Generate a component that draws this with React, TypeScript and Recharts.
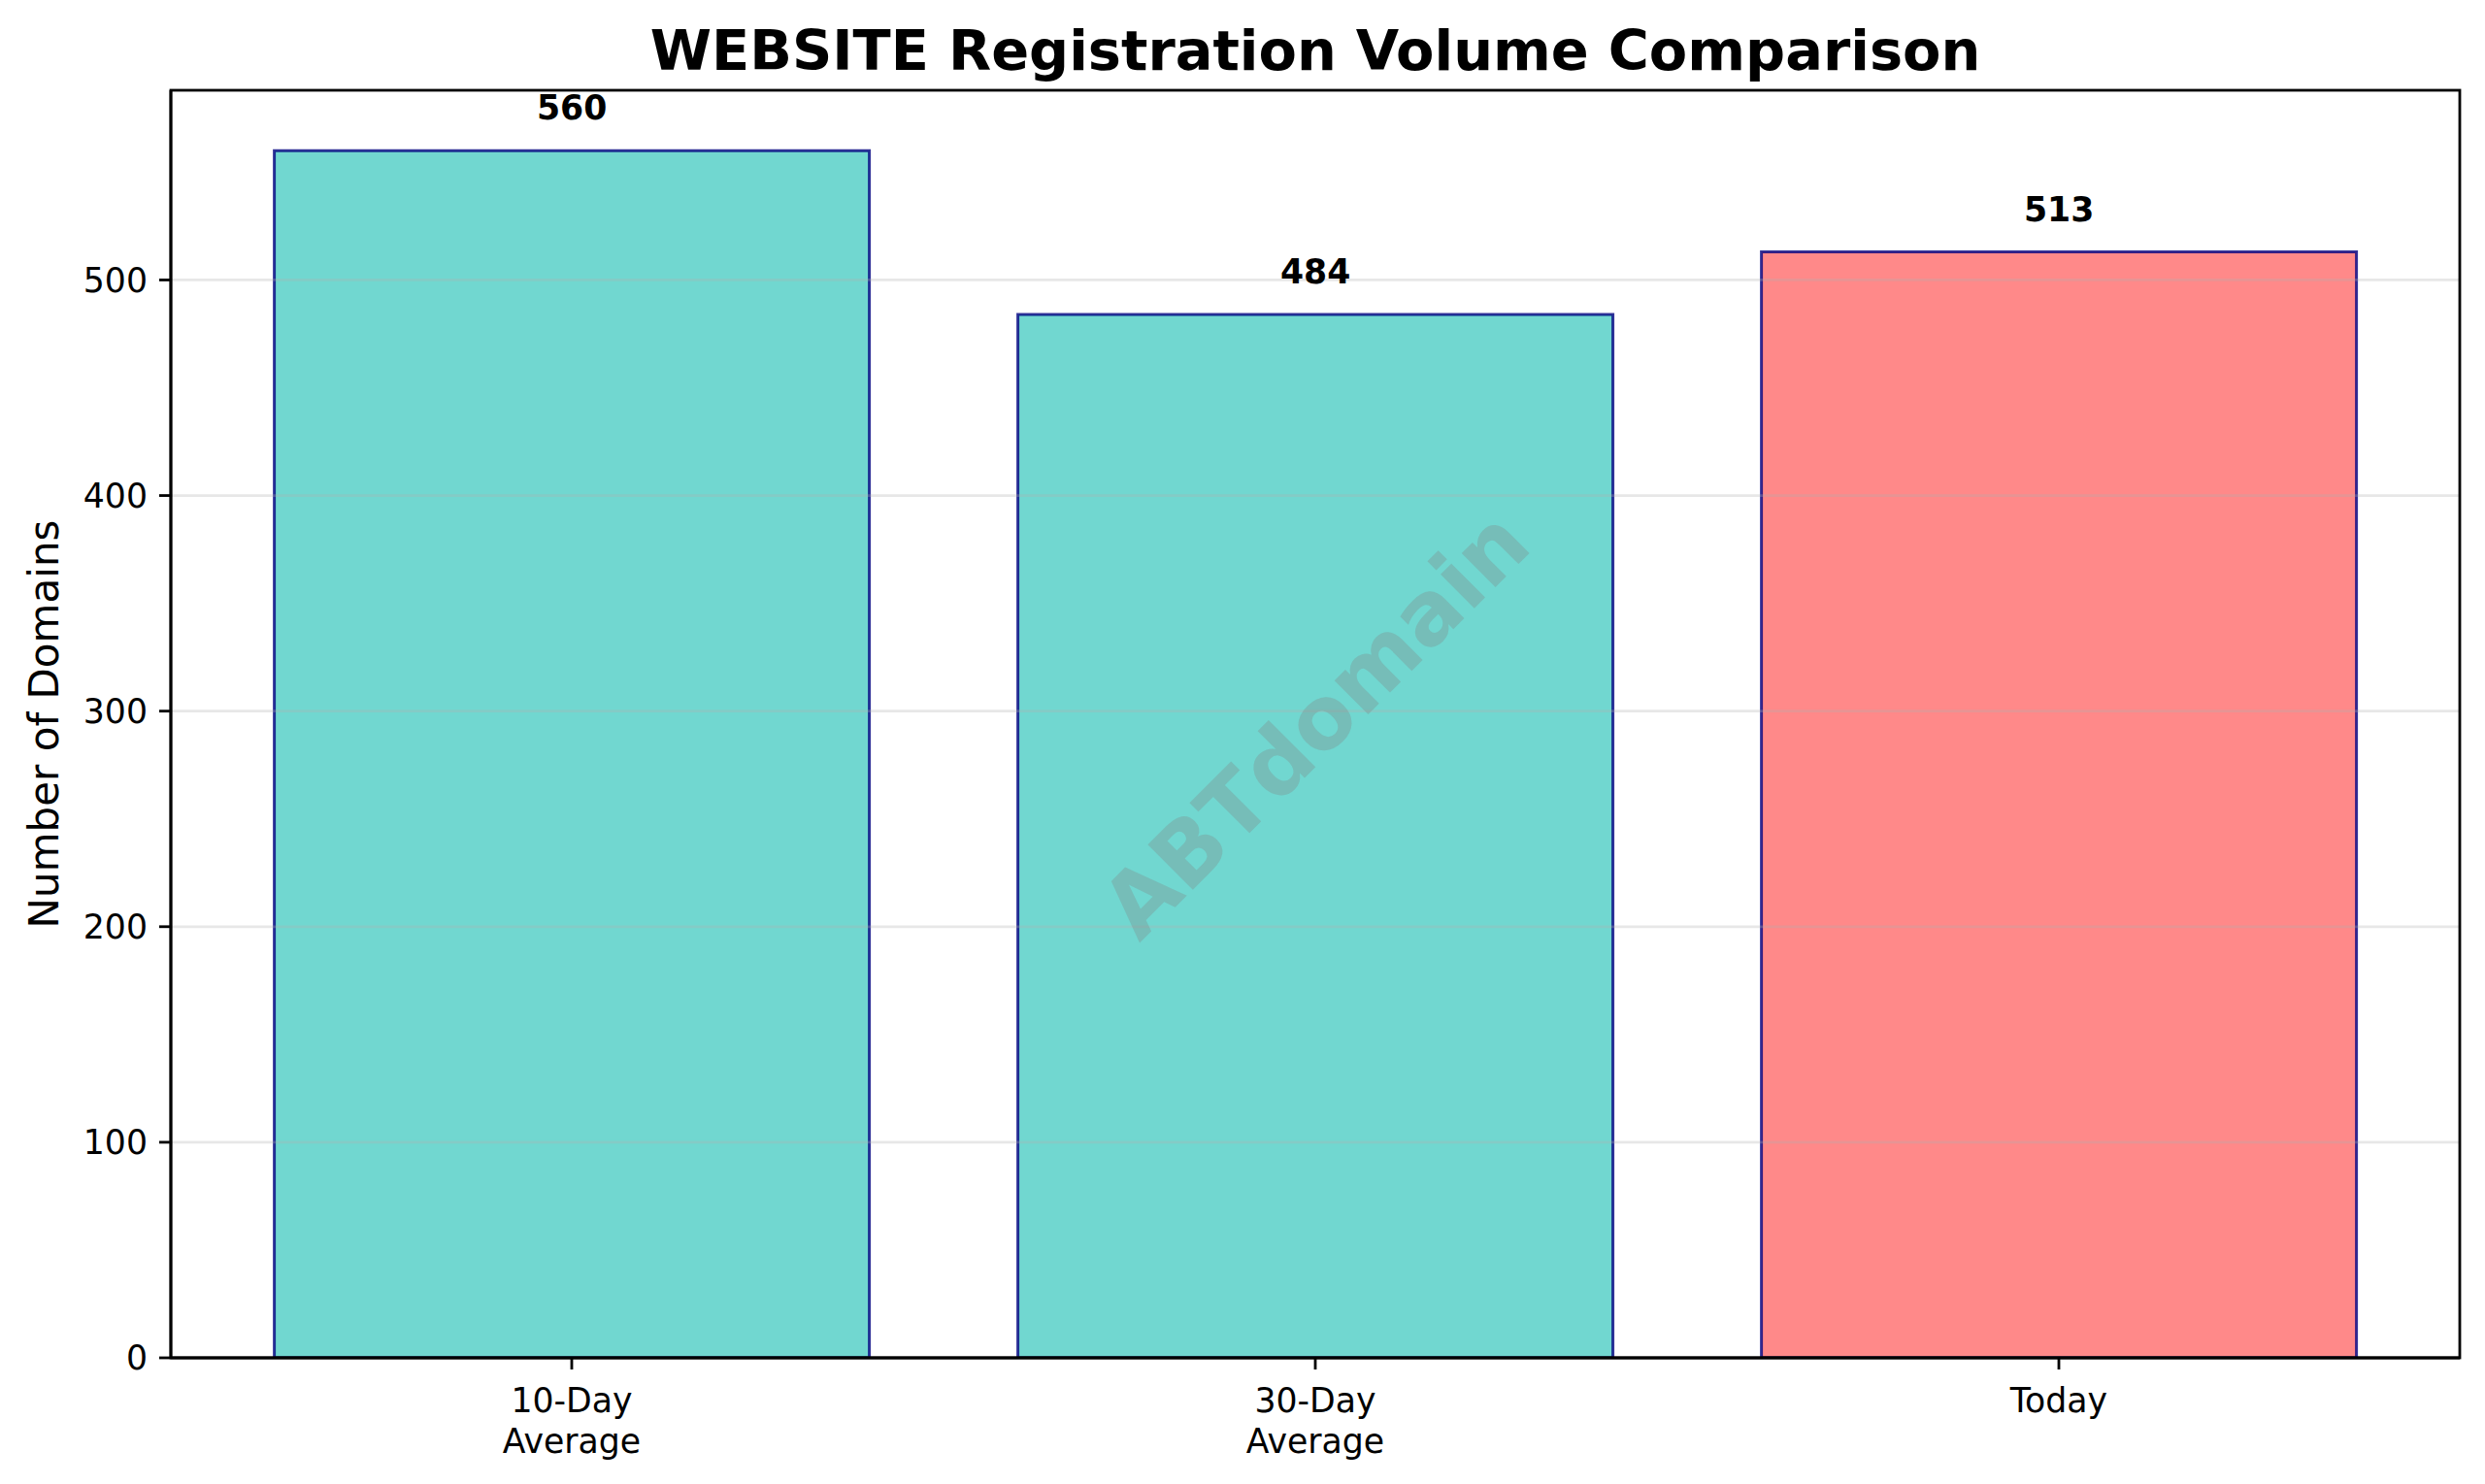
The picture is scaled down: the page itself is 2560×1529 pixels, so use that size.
import React from "react";
import { Bar, BarChart, Cell, LabelList, ReferenceLine, XAxis, YAxis } from "recharts";

// chart values
const categories = ["10-Day\nAverage", "30-Day\nAverage", "Today"];
const volumes = [560, 484, 513];
const barColors = ["#4ECDC4", "#4ECDC4", "#FF6B6B"];
const yTicks = [0, 100, 200, 300, 400, 500];
const yMax = 588;

const title = "WEBSITE Registration Volume Comparison";
const yLabel = "Number of Domains";
const watermark = "ABTdomain";

const FONT = "'DejaVu Sans', sans-serif";
const W = 2560;
const H = 1529;
const MARGIN = { top: 93, right: 26, bottom: 10, left: 76 };
const Y_AXIS_W = 100;
const X_AXIS_H = 120;

// plot box (for the top/right spines of the frame)
const plotLeft = MARGIN.left + Y_AXIS_W;
const plotTop = MARGIN.top;
const plotW = W - plotLeft - MARGIN.right;
const plotH = H - MARGIN.top - MARGIN.bottom - X_AXIS_H;

const data = categories.map((name, i) => ({ name, value: volumes[i] }));

function CategoryTick({ x, y, payload }: any) {
  const lines = String(payload.value).split("\n");
  return (
    <text x={x} y={y} textAnchor="middle" fontSize={34.7} fontFamily={FONT} fill="#000">
      {lines.map((line, i) => (
        <tspan key={i} x={x} dy={i === 0 ? 44 : 41.6}>
          {line}
        </tspan>
      ))}
    </text>
  );
}

function ValueLabel({ x, y, width, value }: any) {
  return (
    <text
      x={Number(x) + Number(width) / 2}
      y={Number(y) - 32}
      textAnchor="middle"
      fontSize={34.7}
      fontWeight="bold"
      fontFamily={FONT}
      fill="#000"
    >
      {value}
    </text>
  );
}

function YAxisLabel({ viewBox }: any) {
  const cx = viewBox.x - 16;
  const cy = viewBox.y + viewBox.height / 2;
  return (
    <text
      x={cx}
      y={cy}
      transform={`rotate(-90, ${cx}, ${cy})`}
      textAnchor="middle"
      fontSize={42}
      fontFamily={FONT}
      fill="#000"
    >
      {yLabel}
    </text>
  );
}

const axisStroke = { stroke: "#000", strokeWidth: 2.8 };

export default function App() {
  return (
    <div style={{ position: "fixed", left: 0, top: 0, width: W, height: H, background: "#fff" }}>
      <div style={{ position: "absolute", left: 0, top: 0 }}>
        <BarChart width={W} height={H} data={data} margin={MARGIN} barCategoryGap="10%">
          <XAxis
            dataKey="name"
            height={X_AXIS_H}
            padding={{ left: 30, right: 30 }}
            axisLine={axisStroke}
            tickLine={axisStroke}
            tickSize={12}
            tickMargin={0}
            tick={<CategoryTick />}
            interval={0}
          />
          <YAxis
            width={Y_AXIS_W}
            domain={[0, yMax]}
            ticks={yTicks}
            allowDataOverflow
            axisLine={axisStroke}
            tickLine={axisStroke}
            tickSize={12}
            tickMargin={12}
            tick={{ fontSize: 34.7, fill: "#000", fontFamily: FONT }}
            label={<YAxisLabel />}
          />
          <Bar
            dataKey="value"
            isAnimationActive={false}
            fillOpacity={0.8}
            stroke="#000080"
            strokeOpacity={0.8}
            strokeWidth={3}
          >
            {data.map((d, i) => (
              <Cell key={d.name} fill={barColors[i]} />
            ))}
            <LabelList dataKey="value" content={<ValueLabel />} />
          </Bar>
          {yTicks.slice(1).map((t) => (
            <ReferenceLine
              key={t}
              y={t}
              stroke="#b0b0b0"
              strokeOpacity={0.3}
              strokeWidth={2.8}
            />
          ))}
        </BarChart>
      </div>
      <svg
        width={W}
        height={H}
        style={{ position: "absolute", left: 0, top: 0, pointerEvents: "none" }}
      >
        <rect
          x={plotLeft}
          y={plotTop}
          width={plotW}
          height={plotH}
          fill="none"
          stroke="#000"
          strokeWidth={2.8}
        />
        <text
          x={plotLeft + plotW / 2}
          y={72}
          textAnchor="middle"
          fontSize={57.4}
          fontWeight="bold"
          fontFamily={FONT}
          fill="#000"
        >
          {title}
        </text>
        <text
          x={plotLeft + plotW / 2}
          y={plotTop + plotH / 2}
          textAnchor="middle"
          dominantBaseline="central"
          transform={`rotate(-45, ${plotLeft + plotW / 2}, ${plotTop + plotH / 2})`}
          fontSize={90}
          fontWeight="bold"
          fontFamily={FONT}
          fill="#808080"
          fillOpacity={0.3}
        >
          {watermark}
        </text>
      </svg>
    </div>
  );
}
